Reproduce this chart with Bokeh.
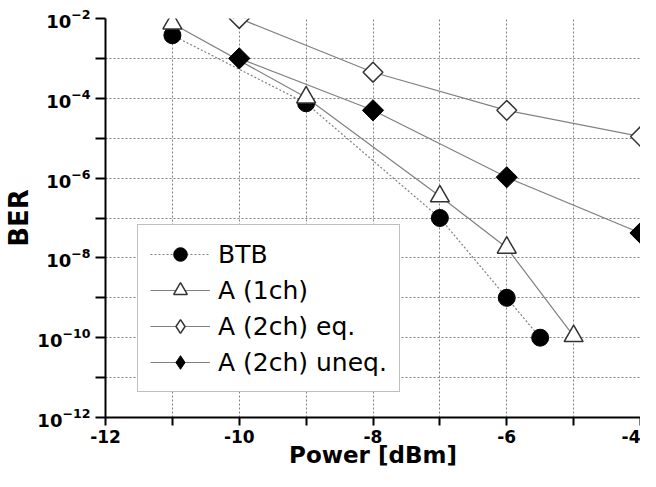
import math
from bokeh.plotting import figure
from bokeh.models import FixedTicker, Legend, LegendItem, Range1d, CustomJSTickFormatter
from bokeh.embed import file_html
from bokeh.resources import INLINE

# ---- data ----
btb_x = [-11, -9, -7, -6, -5.5]
btb_y = [3.8e-3, 7.5e-5, 1.0e-7, 1.0e-9, 1.0e-10]

a1_x = [-11, -9, -7, -6, -5]
a1_y = [7.5e-3, 1.05e-4, 3.5e-7, 1.8e-8, 1.1e-10]

a2eq_x = [-10, -8, -6, -4]
a2eq_y = [1.0e-2, 4.5e-4, 5.0e-5, 1.1e-5]

a2un_x = [-10, -8, -6, -4]
a2un_y = [1.0e-3, 5.0e-5, 1.05e-6, 4.2e-8]

labels = ["BTB", "A (1ch)", "A (2ch) eq.", "A (2ch) uneq."]

x_major = [-12, -10, -8, -6, -4]
x_minor = [-11, -9, -7, -5]
y_major = [1e-12, 1e-10, 1e-8, 1e-6, 1e-4, 1e-2]
y_minor = [1e-11, 1e-9, 1e-7, 1e-5, 1e-3]

p = figure(width=640, height=471, x_range=Range1d(-12, -4), y_range=Range1d(1e-12, 1e-2),
           y_axis_type="log", output_backend="svg", toolbar_location=None,
           min_border_left=105, min_border_right=0, min_border_top=18, min_border_bottom=54)
p.outline_line_color = None
p.background_fill_color = "white"
p.border_fill_color = "white"

xt = FixedTicker(ticks=x_major, minor_ticks=x_minor)
yt = FixedTicker(ticks=y_major, minor_ticks=y_minor)
p.xaxis.ticker = xt
p.yaxis.ticker = yt
p.xgrid.ticker = xt
p.ygrid.ticker = yt
p.xaxis.formatter = CustomJSTickFormatter(code="return tick.toFixed(0)")

for g in (p.xgrid, p.ygrid):
    g.grid_line_color = "#808080"
    g.grid_line_dash = "2 2"
    g.grid_line_width = 1
    g.minor_grid_line_color = "#808080"
    g.minor_grid_line_dash = "2 2"
    g.minor_grid_line_width = 1

for ax in (p.xaxis, p.yaxis):
    ax.axis_line_width = 2
    ax.axis_line_color = "black"
    ax.major_tick_line_width = 2
    ax.minor_tick_line_width = 2
    ax.major_tick_in = 0
    ax.minor_tick_in = 0
    ax.major_label_text_font = "DejaVu Sans"
    ax.major_label_text_font_style = "bold"
    ax.major_label_text_color = "black"
    ax.axis_label_text_font = "DejaVu Sans"
    ax.axis_label_text_font_style = "bold"
    ax.axis_label_text_color = "black"

p.xaxis.major_tick_out = 8
p.xaxis.minor_tick_out = 8
p.yaxis.major_tick_out = 10
p.yaxis.minor_tick_out = 10
p.xaxis.major_label_text_font_size = "17px"
p.yaxis.major_label_text_font_size = "18px"
p.xaxis.major_label_standoff = 4
p.yaxis.major_label_standoff = 5
p.xaxis.axis_label = "Power [dBm]"
p.yaxis.axis_label = "BER"
p.xaxis.axis_label_text_font_size = "23px"
p.yaxis.axis_label_text_font_size = "26px"
p.xaxis.axis_label_standoff = -4
p.yaxis.axis_label_standoff = 0

line_col = "#808080"
edge = "#333333"

l_btb = p.line(btb_x, btb_y, line_color=line_col, line_width=1.2, line_dash="2 2")
l_a1 = p.line(a1_x, a1_y, line_color=line_col, line_width=1.2)
l_eq = p.line(a2eq_x, a2eq_y, line_color=line_col, line_width=1.2)
l_un = p.line(a2un_x, a2un_y, line_color=line_col, line_width=1.2)

# diamond-shaped stand-ins (hidden under the rotated squares) used for the legend glyphs
d_eq = p.scatter(a2eq_x, a2eq_y, marker="diamond", size=18, fill_color="white", line_color=edge, line_width=1.5)
d_un = p.scatter(a2un_x, a2un_y, marker="diamond", size=18, fill_color="black", line_color="black")

s_btb = p.scatter(btb_x, btb_y, marker="circle", size=17, fill_color="black", line_color="black")
s_a1 = p.scatter(a1_x, a1_y, marker="triangle", size=19, fill_color="white", line_color=edge, line_width=1.5)
s_eq = p.scatter(a2eq_x, a2eq_y, marker="square", angle=math.pi / 4, size=14,
                 fill_color="white", line_color=edge, line_width=1.5)
s_un = p.scatter(a2un_x, a2un_y, marker="square", angle=math.pi / 4, size=15,
                 fill_color="black", line_color="black")

items = [
    LegendItem(label=labels[0], renderers=[l_btb, s_btb]),
    LegendItem(label=labels[1], renderers=[l_a1, s_a1]),
    LegendItem(label=labels[2], renderers=[l_eq, d_eq]),
    LegendItem(label=labels[3], renderers=[l_un, d_un]),
]
legend = Legend(items=items, location=(32, 25))
legend.border_line_color = "#808080"
legend.border_line_width = 1
legend.background_fill_color = "white"
legend.background_fill_alpha = 1
legend.label_text_font = "DejaVu Sans"
legend.label_text_font_size = "25px"
legend.label_text_color = "black"
legend.glyph_width = 60
legend.glyph_height = 34
legend.label_standoff = 8
legend.padding = 12
legend.spacing = 2
legend.margin = 0
p.add_layout(legend)

open("out.html", "w").write(file_html(p, INLINE))
